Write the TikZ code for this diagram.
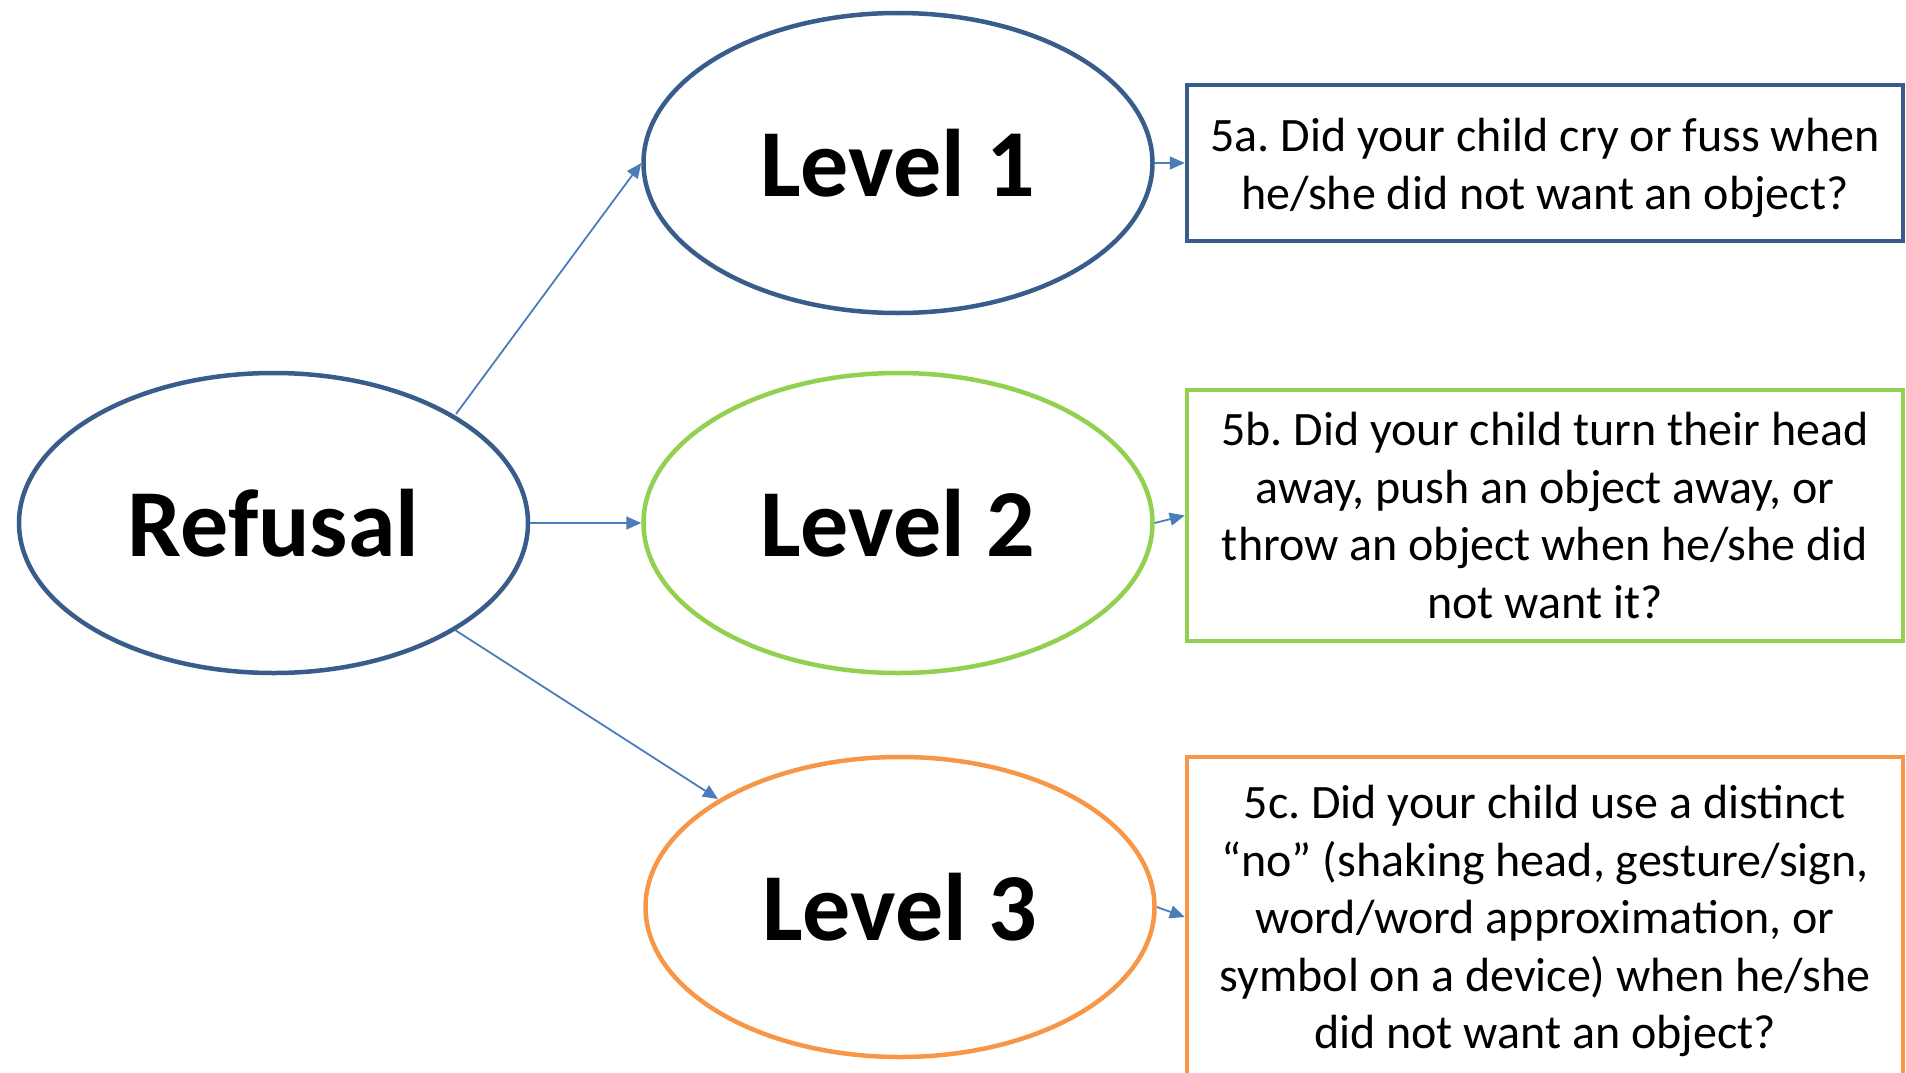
\documentclass[tikz,border=0pt]{standalone}
\usepackage{fontspec}
\setmainfont{Carlito}
\usetikzlibrary{shapes.geometric,arrows.meta}
\definecolor{darkblue}{HTML}{385D8A}
\definecolor{lgreen}{HTML}{92D050}
\definecolor{lorange}{HTML}{F79646}
\definecolor{arrowblue}{HTML}{4A7EBB}
\newcommand{\lowr}[2]{\raisebox{-#1}[\height][\depth]{#2}}
\tikzset{
  oval/.style={ellipse, draw, line width=4.5pt, minimum width=509pt, minimum height=300pt, inner sep=0pt,
    font=\fontsize{96}{110}\selectfont\bfseries},
  qbox/.style={rectangle, draw, line width=4.5pt, minimum width=716pt, inner sep=0pt, align=center,
    font=\fontsize{48}{57.5}\selectfont\frenchspacing},
  conn/.style={arrowblue, line width=1.8pt, -{Triangle[length=15pt,width=13pt]}}
}
\begin{document}
\begin{tikzpicture}[x=1pt,y=-1pt]
\useasboundingbox (0,0) rectangle (1906,1073);
\node[oval, darkblue, text=black] (refusal) at (273.5,523) {Refusal};
\node[oval, darkblue, text=black] (l1) at (898,163) {Level 1};
\node[oval, lgreen, text=black] (l2) at (898,523) {Level 2};
\node[oval, lorange, text=black] (l3) at (900,907) {Level 3};
\node[qbox, darkblue, text=black, minimum height=156pt] (b1) at (1545,163)
  {\lowr{5pt}{5a. Did your child cry or fuss when}\\\lowr{5pt}{he/she did not want an object?}};
\node[qbox, lgreen, text=black, minimum height=251pt] (b2) at (1545,515.5)
  {5b. Did your child turn their head\\away, push an object away, or\\throw an object when he/she did\\not want it?};
\node[qbox, lorange, text=black, minimum height=320pt] (b3) at (1545,917)
  {\lowr{4pt}{5c. Did your child use a distinct}\\\lowr{4pt}{``no'' (shaking head, gesture/sign,}\\\lowr{4pt}{word/word approximation, or}\\\lowr{4pt}{symbol on a device) when he/she}\\\lowr{4pt}{did not want an object?}};
\coordinate (r1) at ([shift={(182.5,-109)}]refusal.center);
\coordinate (r3) at ([shift={(181.5,107)}]refusal.center);
\coordinate (t3) at ([shift={(-182,-108)}]l3.center);
\draw[conn] (r1) -- (l1.west);
\draw[conn] (refusal.east) -- (l2.west);
\draw[conn] (r3) -- (t3);
\draw[conn] (l1.east) -- (b1.west);
\draw[conn] (l2.east) -- (b2.west);
\draw[conn] (l3.east) -- (b3.west);
\end{tikzpicture}
\end{document}
